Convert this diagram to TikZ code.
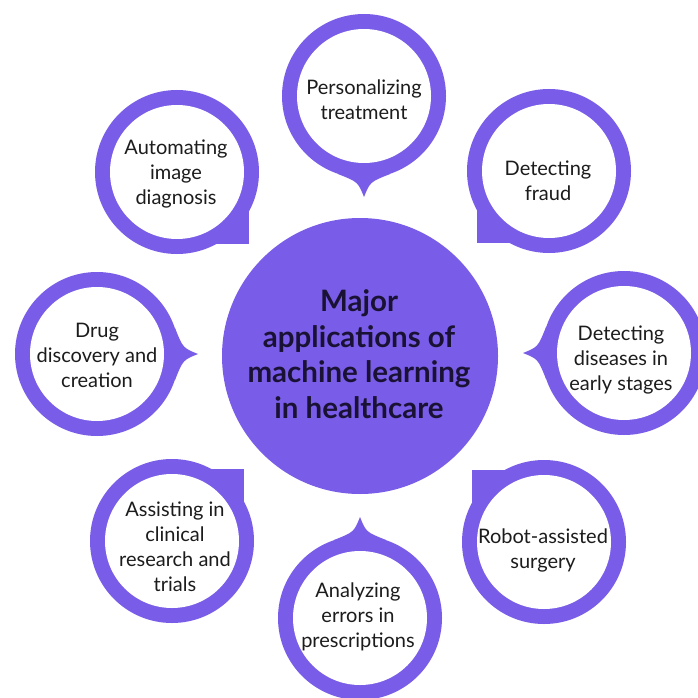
\documentclass[tikz,border=0pt]{standalone}
\usepackage{fontspec}
\setmainfont{Lato}
\usetikzlibrary{calc}
\definecolor{ringpurple}{RGB}{121,92,231}
\definecolor{txt}{RGB}{28,28,28}
\definecolor{ctxt}{RGB}{26,18,52}
\newcommand\tipbubble[3]{%
  \begin{scope}[shift={(#1,#2)},rotate=#3]
    \fill[ringpurple] (0,0) circle (82pt);
    \fill[ringpurple] (78,-26) .. controls (86,-6) .. (101,0) .. controls (86,6) .. (78,26) -- cycle;
    \fill[white] (0,0) circle (67pt);
  \end{scope}}
\newcommand\cornerbubble[4]{%
  \fill[ringpurple] (#1,#2) circle (82pt);
  \fill[ringpurple] (#1,#2) rectangle ++(#3*72,#4*72);
  \fill[white] (#1,#2) circle (67pt);}
\begin{document}
\begin{tikzpicture}[x=1pt,y=-1pt,
  lbl/.style={align=center,font=\fontsize{20}{25}\selectfont,text=txt,inner sep=0pt},
  clbl/.style={align=center,font=\fontsize{29.5}{35.5}\selectfont\bfseries,text=ctxt,inner sep=0pt}]
\useasboundingbox (0,0) rectangle (697,698);
\fill[white] (0,0) rectangle (697,698);
% centre
\fill[ringpurple] (360,356) circle (138pt);
\node[clbl] (center) at (359,354) {Major\\applications of\\machine learning\\in healthcare};
% bubbles with pointed tips
\tipbubble{364}{96}{-90}
\node[lbl] (personal) at (364,100) {Personalizing\\treatment};
\tipbubble{624}{353}{180}
\node[lbl] (diseases) at (621,360) {Detecting\\diseases in\\early stages};
\tipbubble{360}{618}{90}
\node[lbl] (errors) at (358,617) {Analyzing\\errors in\\prescriptions};
\tipbubble{97}{354}{0}
\node[lbl] (drug) at (97,355) {Drug\\discovery and\\creation};
% bubbles with square corners
\cornerbubble{549}{171}{-1}{1}
\node[lbl] (fraud) at (548,181) {Detecting\\fraud};
\cornerbubble{544}{542}{-1}{-1}
\node[lbl] (robot) at (543,550) {Robot-assisted\\surgery};
\cornerbubble{172}{541}{1}{-1}
\node[lbl] (clinical) at (175,547) {Assisting in\\clinical\\research and\\trials};
\cornerbubble{177}{172}{1}{1}
\node[lbl] (image) at (176,174) {Automating\\image\\diagnosis};
\end{tikzpicture}
\end{document}
